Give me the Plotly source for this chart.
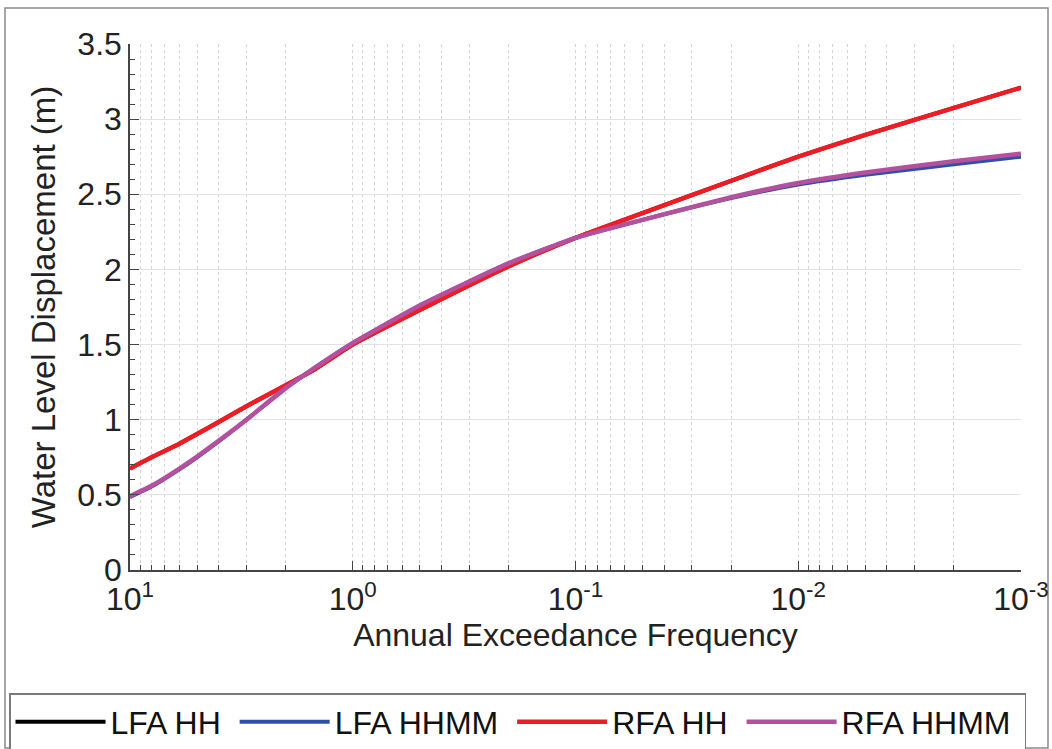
import plotly.graph_objects as go

# Annual exceedance frequency (events per year), plotted on a reversed log axis
freq = [10, 8, 6, 5, 4, 3, 2, 1.5, 1, 0.5, 0.2, 0.1, 0.05, 0.02, 0.01, 0.005, 0.002, 0.001]

# Water level displacement (m) for each frequency-analysis method
lfa_hh = [0.675, 0.75, 0.84, 0.905, 0.985, 1.09, 1.23, 1.33, 1.50, 1.73, 2.02, 2.21, 2.375, 2.59, 2.75, 2.895, 3.075, 3.21]
lfa_hhmm = [0.485, 0.555, 0.67, 0.75, 0.855, 1.00, 1.21, 1.34, 1.51, 1.76, 2.04, 2.21, 2.33, 2.475, 2.565, 2.63, 2.70, 2.75]
rfa_hh = [0.675, 0.75, 0.84, 0.905, 0.985, 1.09, 1.23, 1.33, 1.50, 1.73, 2.02, 2.21, 2.375, 2.59, 2.75, 2.895, 3.075, 3.21]
rfa_hhmm = [0.49, 0.56, 0.675, 0.755, 0.86, 1.00, 1.21, 1.34, 1.51, 1.76, 2.04, 2.21, 2.33, 2.48, 2.575, 2.645, 2.72, 2.77]

series_names = ["LFA HH", "LFA HHMM", "RFA HH", "RFA HHMM"]
series_values = [lfa_hh, lfa_hhmm, rfa_hh, rfa_hhmm]
series_colors = ["#000000", "#2E50A6", "#EE1C25", "#B5509F"]
series_widths = [4, 4, 4.5, 4.5]

x_tick_vals = [10, 1, 0.1, 0.01, 0.001]
x_tick_text = ["10<sup>1</sup>", "10<sup>0</sup>", "10<sup>-1</sup>", "10<sup>-2</sup>", "10<sup>-3</sup>"]
x_minor_vals = [k * 10.0 ** e for e in range(-3, 1) for k in range(2, 10)]

FONT = "Liberation Sans, Arial, sans-serif"
W, H = 1052, 749
ML, MR, MT, MB = 130, 31, 44, 179

fig = go.Figure()
for name, vals, color, width in zip(series_names, series_values, series_colors, series_widths):
    fig.add_trace(go.Scatter(
        x=freq, y=vals, mode="lines",
        name=name + "\u00a0",  # trailing no-break space widens the gap between legend entries
        line=dict(color=color, width=width, shape="spline", smoothing=0.5),
    ))

plot_w = W - ML - MR
plot_h = H - MT - MB


def px_to_paper_x(px):
    return (px - ML) / plot_w


def px_to_paper_y(py):
    return (H - MB - py) / plot_h


# thin frame around the whole figure
fig.add_shape(
    type="rect", xref="paper", yref="paper",
    x0=px_to_paper_x(5), x1=px_to_paper_x(1048),
    y0=px_to_paper_y(748), y1=px_to_paper_y(8),
    line=dict(color="#8a8a8a", width=1.5), fillcolor="rgba(0,0,0,0)", layer="below",
)

fig.update_layout(
    width=W, height=H,
    margin=dict(l=ML, r=MR, t=MT, b=MB, autoexpand=False),
    paper_bgcolor="white", plot_bgcolor="white",
    font=dict(family=FONT, size=32, color="#222222"),
    showlegend=True,
    legend=dict(
        orientation="h",
        xref="paper", yref="paper",
        x=px_to_paper_x(9), y=px_to_paper_y(693), xanchor="left", yanchor="top",
        bordercolor="#7a7a7a", borderwidth=1.5, bgcolor="white",
        font=dict(family=FONT, size=32, color="#111111"),
        itemwidth=90,
        tracegroupgap=0,
    ),
    xaxis=dict(
        type="log",
        range=[1, -3],
        tickmode="array", tickvals=x_tick_vals, ticktext=x_tick_text,
        ticks="inside", ticklen=9, tickwidth=1.2, tickcolor="#444444",
        showline=True, linecolor="#444444", linewidth=1.5,
        showgrid=True, gridcolor="#d4d4d4", griddash="dot", gridwidth=1,
        zeroline=False, mirror=False,
        tickfont=dict(size=32, family=FONT, color="#222222"),
        title=dict(text="Annual Exceedance Frequency", font=dict(size=32, family=FONT, color="#222222"), standoff=6),
        minor=dict(
            tickmode="array", tickvals=x_minor_vals,
            ticks="inside", ticklen=5, tickcolor="#444444", tickwidth=1,
            showgrid=True, gridcolor="#d4d4d4", griddash="dot", gridwidth=1,
        ),
    ),
    yaxis=dict(
        range=[0, 3.5],
        tickmode="linear", tick0=0, dtick=0.5,
        ticks="inside", ticklen=9, tickwidth=1.2, tickcolor="#444444",
        showline=True, linecolor="#444444", linewidth=1.5,
        showgrid=True, gridcolor="#e2e2e2", gridwidth=1.2,
        zeroline=False, mirror=False,
        tickfont=dict(size=32, family=FONT, color="#222222"),
        title=dict(text="Water Level Displacement (m)", font=dict(size=33, family=FONT, color="#222222"), standoff=12),
        minor=dict(
            tickmode="linear", tick0=0, dtick=0.1,
            ticks="inside", ticklen=5, tickcolor="#444444", tickwidth=1,
            showgrid=False,
        ),
    ),
)

fig.write_html("out.html")
